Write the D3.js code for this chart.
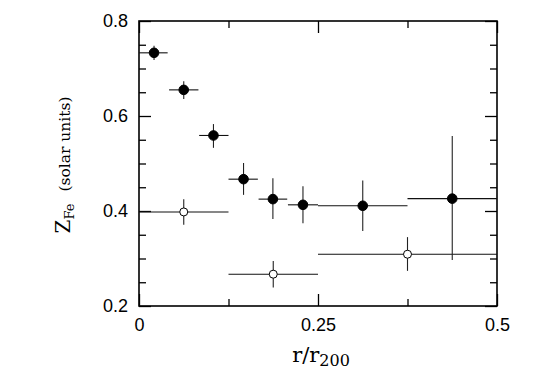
<!DOCTYPE html>
<html>
<head>
<meta charset="utf-8">
<script src="https://cdn.jsdelivr.net/npm/d3@7"></script>
<style>
  body { margin: 0; background: #fff; }
  .tick text { font-family: "Liberation Sans", Arial, sans-serif; font-size: 18px; fill: #000; }
  .domain { stroke: none; }
  .tick line { stroke: #000; stroke-width: 1.3; }
  .ttl { font-family: "DejaVu Serif", "Liberation Serif", serif; fill: #000; }
</style>
</head>
<body>
<div id="chart"></div>
<script>
// filled points (bins), x centre with bin edges, y with error range
const filledX   = [0.021, 0.0625, 0.104, 0.146, 0.187, 0.229, 0.3125, 0.4375];
const filledXLo = [0, 0.042, 0.084, 0.125, 0.167, 0.208, 0.25, 0.375];
const filledXHi = [0.04, 0.083, 0.125, 0.166, 0.207, 0.25, 0.375, 0.5];
const filledY   = [0.733, 0.655, 0.559, 0.467, 0.425, 0.413, 0.411, 0.426];
const filledYLo = [0.718, 0.636, 0.533, 0.434, 0.383, 0.374, 0.358, 0.297];
const filledYHi = [0.748, 0.673, 0.583, 0.501, 0.469, 0.452, 0.464, 0.558];

// open points
const openX   = [0.0625, 0.1875, 0.375];
const openXLo = [0, 0.125, 0.25];
const openXHi = [0.125, 0.25, 0.5];
const openY   = [0.398, 0.267, 0.309];
const openYLo = [0.371, 0.239, 0.274];
const openYHi = [0.425, 0.295, 0.345];

const xMajor = [0, 0.25, 0.5];
const xMajorLabels = ["0", "0.25", "0.5"];
const xMinor = [0.125, 0.375];
const yMajor = [0.2, 0.4, 0.6, 0.8];
const yMajorLabels = ["0.2", "0.4", "0.6", "0.8"];
const yMinor = [0.25, 0.3, 0.35, 0.45, 0.5, 0.55, 0.65, 0.7, 0.75];

const W = 543, H = 377;
const plotL = 139, plotR = 497, plotT = 21, plotB = 306;

const svg = d3.select('#chart').append('svg')
  .attr('width', W).attr('height', H);

const x = d3.scaleLinear().domain([0, 0.5]).range([plotL, plotR]);
const y = d3.scaleLinear().domain([0.2, 0.8]).range([plotB, plotT]);

var majorLen = 12, minorLen = 7;

// bottom + top
svg.append('g').attr('transform', 'translate(0,' + plotB + ')')
  .call(d3.axisBottom(x).tickValues(xMajor).tickFormat((d, i) => xMajorLabels[i])
    .tickSizeInner(-majorLen).tickSizeOuter(0).tickPadding(12));
svg.append('g').attr('transform', 'translate(0,' + plotB + ')')
  .call(d3.axisBottom(x).tickValues(xMinor).tickFormat('').tickSizeInner(-minorLen).tickSizeOuter(0));
svg.append('g').attr('transform', 'translate(0,' + plotT + ')')
  .call(d3.axisTop(x).tickValues(xMajor).tickFormat('').tickSizeInner(-majorLen).tickSizeOuter(0));
svg.append('g').attr('transform', 'translate(0,' + plotT + ')')
  .call(d3.axisTop(x).tickValues(xMinor).tickFormat('').tickSizeInner(-minorLen).tickSizeOuter(0));

// left + right
svg.append('g').attr('transform', 'translate(' + plotL + ',0)')
  .call(d3.axisLeft(y).tickValues(yMajor).tickFormat((d, i) => yMajorLabels[i])
    .tickSizeInner(-majorLen).tickSizeOuter(0).tickPadding(11));
svg.append('g').attr('transform', 'translate(' + plotL + ',0)')
  .call(d3.axisLeft(y).tickValues(yMinor).tickFormat('').tickSizeInner(-minorLen).tickSizeOuter(0));
svg.append('g').attr('transform', 'translate(' + plotR + ',0)')
  .call(d3.axisRight(y).tickValues(yMajor).tickFormat('').tickSizeInner(-majorLen).tickSizeOuter(0));
svg.append('g').attr('transform', 'translate(' + plotR + ',0)')
  .call(d3.axisRight(y).tickValues(yMinor).tickFormat('').tickSizeInner(-minorLen).tickSizeOuter(0));

// frame
svg.append('rect')
  .attr('x', plotL).attr('y', plotT)
  .attr('width', plotR - plotL).attr('height', plotB - plotT)
  .attr('fill', 'none').attr('stroke', '#000').attr('stroke-width', 1.6);

var drawSet = function (xs, xlo, xhi, ys, ylo, yhi, filled) {
  var g = svg.append('g');
  var pts = xs.map((d, i) => ({ x: d, xl: xlo[i], xh: xhi[i], y: ys[i], yl: ylo[i], yh: yhi[i] }));
  g.selectAll('line.h').data(pts).enter().append('line')
    .attr('x1', d => x(d.xl)).attr('x2', d => x(d.xh))
    .attr('y1', d => y(d.y)).attr('y2', d => y(d.y))
    .attr('stroke', '#111').attr('stroke-width', 1.1);
  g.selectAll('line.v').data(pts).enter().append('line')
    .attr('x1', d => x(d.x)).attr('x2', d => x(d.x))
    .attr('y1', d => y(d.yl)).attr('y2', d => y(d.yh))
    .attr('stroke', '#222').attr('stroke-width', 1.1);
  g.selectAll('circle').data(pts).enter().append('circle')
    .attr('cx', d => x(d.x)).attr('cy', d => y(d.y))
    .attr('r', filled ? 4.8 : 4)
    .attr('fill', filled ? '#000' : '#fff')
    .attr('stroke', '#000').attr('stroke-width', 1);
};

drawSet(openX, openXLo, openXHi, openY, openYLo, openYHi, false);
drawSet(filledX, filledXLo, filledXHi, filledY, filledYLo, filledYHi, true);

// x title r/r200
var xt = svg.append('text').attr('class', 'ttl')
  .attr('x', 321).attr('y', 362).attr('text-anchor', 'middle').style('font-size', '21px');
xt.append('tspan').text('r/r');
xt.append('tspan').attr('dy', 4).style('font-size', '16px').text('200');

// y title Z_Fe (solar units)
var yt = svg.append('text').attr('class', 'ttl')
  .attr('transform', 'translate(70,165) rotate(-90)')
  .attr('text-anchor', 'middle').style('font-size', '20px');
yt.append('tspan').text('Z');
yt.append('tspan').attr('dy', 4).style('font-size', '13px').text('Fe');
yt.append('tspan').attr('dy', -4).attr('dx', 12).style('font-size', '15.5px').text('(solar units)');
</script>
</body>
</html>
